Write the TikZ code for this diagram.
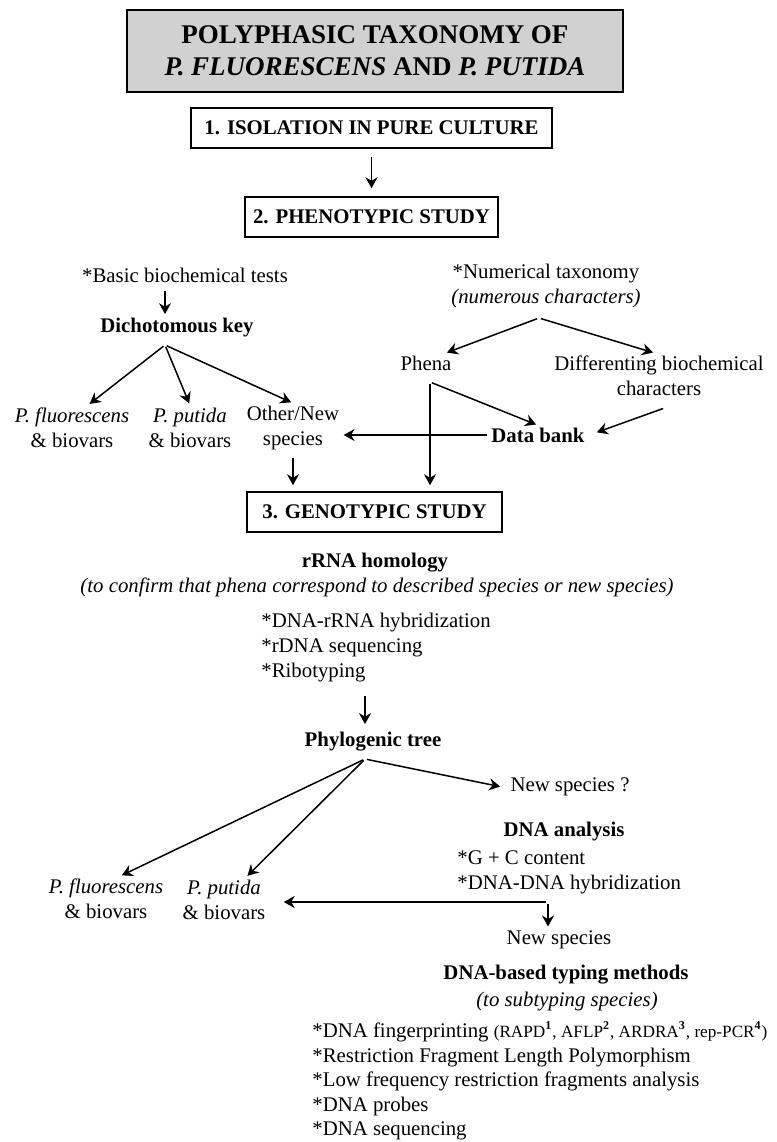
\documentclass[tikz,border=0pt]{standalone}
\usepackage{fontspec}
\setmainfont{Liberation Serif}
\usetikzlibrary{arrows.meta}

\begin{document}
\begin{tikzpicture}[x=0.5pt,y=-0.5pt]
  \tikzset{txt/.style={inner sep=1pt, align=center, font=\fontsize{10.4}{12.5}\selectfont},
    head/.style={txt, font=\fontsize{10.4}{12.5}\selectfont\bfseries},
    stage/.style={draw, line width=0.75pt, inner sep=0pt, minimum height=20pt, font=\fontsize{10.4}{12.5}\selectfont\bfseries},
    arr/.style={line width=0.75pt, shorten <=1pt, shorten >=1pt, -{Stealth[length=5.5pt,width=6pt,inset=1.8pt]}}}
  \useasboundingbox (0,0) rectangle (777,1142);

  % stages
  \node[stage, fill=black!18, minimum width=248pt, minimum height=41pt, align=center, font=\fontsize{13.5}{16}\selectfont\bfseries] at (375,51) (title) {POLYPHASIC TAXONOMY OF\\\textit{P. FLUORESCENS} AND \textit{P. PUTIDA}};
  \node[stage, minimum width=180.5pt] at (371.5,128) (iso) {1. ISOLATION IN PURE CULTURE};
  \node[stage, minimum width=126.5pt] at (371.5,217) (pheno) {2. PHENOTYPIC STUDY};
  \node[stage, minimum width=127.5pt] at (374.5,512) (geno) {3. GENOTYPIC STUDY};

  % phenotypic part
  \node[txt] at (185,275) (basic) {*Basic biochemical tests};
  \node[head] at (177,328) (dkey) {Dichotomous key};
  \node[txt] at (72,427.5) (pfl1) {\textit{P. fluorescens}\\\& biovars};
  \node[txt] at (190,427.5) (pput1) {\textit{P. putida}\\\& biovars};
  \node[txt] at (293,427.5) (other) {Other/New\\species};
  \node[txt] at (546,285.5) (numtax) {*Numerical taxonomy\\\textit{(numerous characters)}};
  \node[txt] at (426,363) (phena) {Phena};
  \node[txt] at (659,375.5) (diff) {Differenting biochemical\\characters};
  \node[head] at (538,435) (dbank) {Data bank};

  % genotypic part
  \node[head] at (375,563) (rrna) {rRNA homology};
  \node[txt] at (377,587) (confirm) {\textit{(to confirm that phena correspond to described species or new species)}};
  \node[txt, align=left, anchor=west] at (259,647.5) (rmeth) {*DNA-rRNA hybridization\\*rDNA sequencing\\*Ribotyping};
  \node[head] at (373,742) (phylo) {Phylogenic tree};
  \node[txt] at (570,787) (newq) {New species ?};
  \node[head] at (564,832) (dnaan) {DNA analysis};
  \node[txt, align=left, anchor=west] at (455,872.5) (gc) {*G + C content\\*DNA-DNA hybridization};
  \node[txt] at (106,898.5) (pfl2) {\textit{P. fluorescens}\\\& biovars};
  \node[txt] at (224,899.5) (pput2) {\textit{P. putida}\\\& biovars};
  \node[txt] at (559,940) (newsp) {New species};
  \node[head] at (566,975) (typing) {DNA-based typing methods};
  \node[txt] at (567,1002) (subtyp) {\textit{(to subtyping species)}};
  \node[txt, align=left, anchor=west, font=\fontsize{10.4}{12.25}\selectfont] at (310,1081) (tlist) {*DNA fingerprinting {\fontsize{8.6}{10}\selectfont(RAPD\textsuperscript{\textbf{1}}, AFLP\textsuperscript{\textbf{2}}, ARDRA\textsuperscript{\textbf{3}}, rep-PCR\textsuperscript{\textbf{4}})}\\*Restriction Fragment Length Polymorphism\\*Low frequency restriction fragments analysis\\*DNA probes\\*DNA sequencing};

  \coordinate (dkfork) at (165,345);
  \coordinate (ntfork) at (539,318);
  \coordinate (phfork) at (430,382);
  \coordinate (ptfork) at (365,759);
  \coordinate (dnajoin) at (548,902);

  \draw[arr] ([yshift=-3pt]iso.south) -- ([yshift=3pt]pheno.north);
  \draw[arr] ([yshift=-2pt]basic.south -| dkfork) -- (dkey.north -| dkfork);
  \draw[arr] (dkfork) -- ([xshift=8pt]pfl1.north);
  \draw[arr] (dkfork) -- (pput1.north);
  \draw[arr] (dkfork) -- (other.north);
  \draw[arr] (ntfork) -- ([xshift=9.5pt]phena.north);
  \draw[arr] (ntfork) -- ([xshift=-2pt]diff.north);
  \draw[arr] (phfork) -- (dbank.north);
  \draw[arr] (phfork) -- ([yshift=2pt]phfork |- geno.north);
  \draw[arr] ([xshift=3pt,yshift=-5pt]diff.south) -- ([xshift=4pt,yshift=1pt]dbank.east);
  \draw[arr] (dbank.west) -- (dbank.west -| other.east);
  \draw[arr] ([yshift=-2pt]other.south) -- ([yshift=2pt]other.south |- geno.north);
  \draw[arr] ([yshift=-5pt]ptfork |- rmeth.south) -- ([yshift=2pt]ptfork |- phylo.north);
  \draw[arr] (ptfork) -- ([xshift=7pt]pfl2.north);
  \draw[arr] (ptfork) -- ([xshift=11pt]pput2.north);
  \draw[arr] (ptfork) -- ([xshift=-3pt]newq.west);
  \draw[arr] (dnajoin) -- ([xshift=7pt]dnajoin -| pput2.east);
  \draw[arr] (dnajoin) -- (dnajoin |- newsp.north);
\end{tikzpicture}
\end{document}
